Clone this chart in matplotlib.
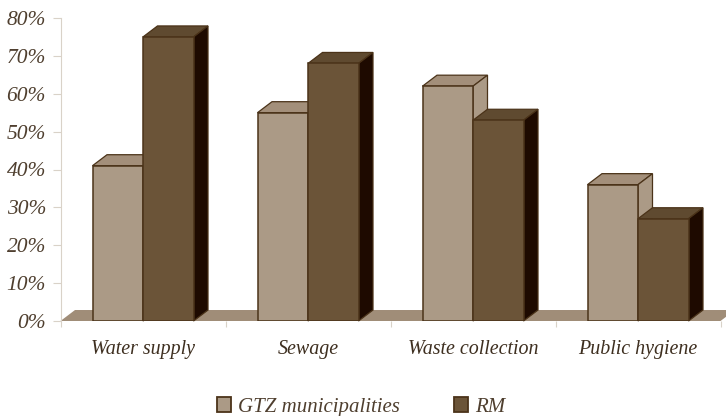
# Grouped pseudo-3D bars: service coverage, GTZ municipalities vs RM

import matplotlib
matplotlib.use("Agg")
from matplotlib import pyplot as plt
from matplotlib.patches import Polygon, Patch

categories = ["Water supply", "Sewage", "Waste collection", "Public hygiene"]
gtz_values = [41, 55, 62, 36]
rm_values = [75, 68, 53, 27]
y_ticks = [0, 10, 20, 30, 40, 50, 60, 70, 80]

# Colours
LIGHT = "#ab9a86"
DARK = "#6b5438"
DARK_SIDE = "#1e0a00"
EDGE = "#4b3319"
FLOOR = "#a08d78"
AXIS = "#d9d2c8"
TEXT = "#4f3f2f"

# Depth of the fake 3D, in data units (x = categories, y = percent)
DEPTH_X = 14.5 / 165
DEPTH_Y = 11 / 3.79
BAR_WIDTH = 50.5 / 165

plt.rcParams["font.family"] = ["Liberation Serif", "DejaVu Serif"]
plt.rcParams["font.style"] = "italic"

fig = plt.figure(figsize=(7.26, 4.16), dpi=100)
ax = fig.add_axes([60.5 / 726, 1 - 321 / 416, 660 / 726, 303 / 416])
ax.set_xlim(0, 4)
ax.set_ylim(0, 80)


def draw_bar(x, value, face, top, side):
    ax.bar(x, value, BAR_WIDTH, align="edge", color=face, edgecolor=EDGE, linewidth=1.1, zorder=4)
    ax.add_patch(Polygon(
        [(x, value), (x + DEPTH_X, value + DEPTH_Y),
         (x + BAR_WIDTH + DEPTH_X, value + DEPTH_Y), (x + BAR_WIDTH, value)],
        facecolor=top, edgecolor=EDGE, linewidth=0.9, zorder=3, clip_on=False))
    ax.add_patch(Polygon(
        [(x + BAR_WIDTH, 0), (x + BAR_WIDTH + DEPTH_X, DEPTH_Y),
         (x + BAR_WIDTH + DEPTH_X, value + DEPTH_Y), (x + BAR_WIDTH, value)],
        facecolor=side, edgecolor=EDGE, linewidth=0.9, zorder=3, clip_on=False))


# Floor
ax.add_patch(Polygon(
    [(0, 0), (DEPTH_X, DEPTH_Y), (4 + DEPTH_X, DEPTH_Y), (4, 0)],
    facecolor=FLOOR, edgecolor="none", zorder=1, clip_on=False))

for i in range(len(categories)):
    left = i + 0.5 - BAR_WIDTH
    draw_bar(left, gtz_values[i], LIGHT, "#a38f7a", LIGHT)
    draw_bar(i + 0.5, rm_values[i], DARK, "#5f4a30", DARK_SIDE)

for spine in ["top", "right"]:
    ax.spines[spine].set_visible(False)
ax.spines["left"].set_color(AXIS)
ax.spines["bottom"].set_visible(False)

ax.set_yticks(y_ticks)
ax.set_yticklabels([f"{v}%" for v in y_ticks], fontsize=15.5, color=TEXT)
ax.set_xticks([0, 1, 2, 3, 4])
ax.set_xticklabels([])
ax.set_xticks([0.5, 1.5, 2.5, 3.5], minor=True)
ax.set_xticklabels(categories, minor=True, fontsize=14.4, color="#3e2f20")
ax.tick_params(axis="y", length=6, color=AXIS, pad=4.5, direction="out")
ax.tick_params(axis="x", which="major", length=4, color=AXIS)
ax.tick_params(axis="x", which="minor", length=0, pad=14)

handles = [Patch(facecolor=LIGHT, edgecolor=EDGE, linewidth=1.3, label="GTZ municipalities"),
           Patch(facecolor=DARK, edgecolor=EDGE, linewidth=1.3, label="RM")]
fig.legend(handles=handles, loc="lower center", bbox_to_anchor=(0.497, -0.047), ncol=2, frameon=False,
           fontsize=15, labelcolor=TEXT, handlelength=0.67, handleheight=0.67,
           handletextpad=0.33, columnspacing=2.6)

fig.savefig("out.png", dpi=100)
